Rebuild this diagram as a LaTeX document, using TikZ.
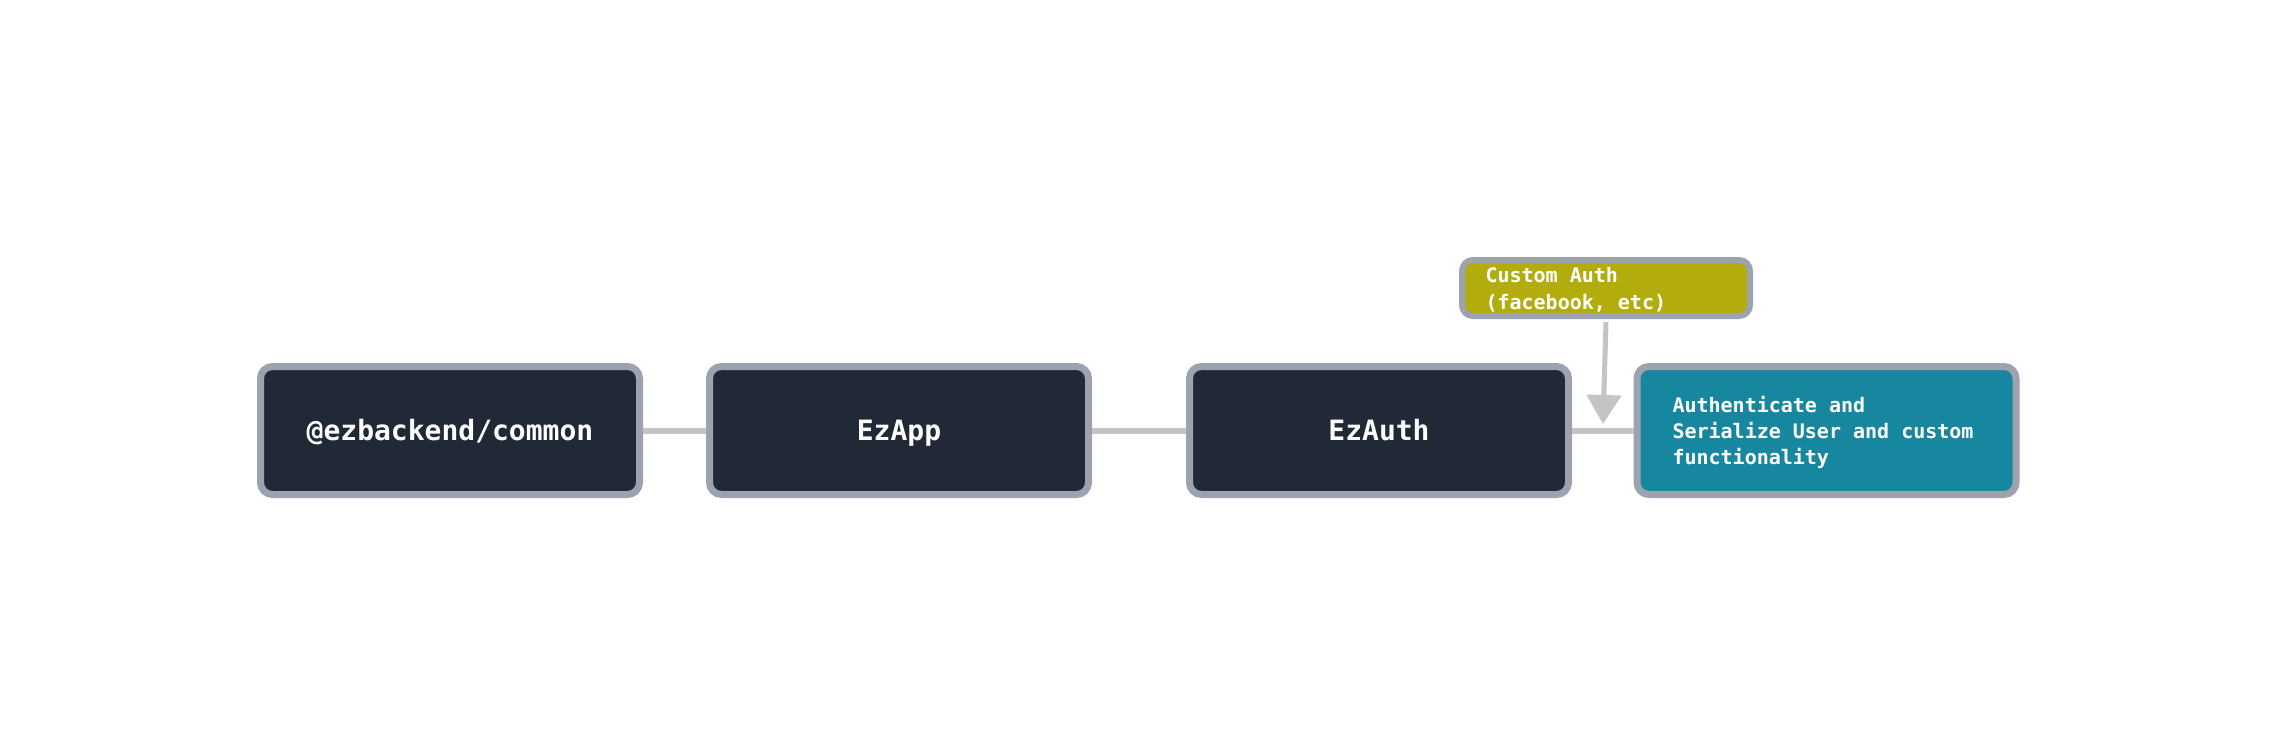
\documentclass[tikz,border=0pt]{standalone}
\usepackage{fontspec}
\newfontfamily\monob{DejaVu Sans Mono}
\newcommand{\monosz}[2]{\monob\bfseries\fontsize{#1}{#2}\selectfont}
\newcommand{\ws}{\hskip0.602em\relax}
\usetikzlibrary{arrows.meta}
\definecolor{darkfill}{HTML}{212937}
\definecolor{edgegray}{HTML}{9CA3AF}
\definecolor{tealfill}{HTML}{17879F}
\definecolor{olivefill}{HTML}{B3AC0D}
\definecolor{linkgray}{HTML}{C4C4C4}
\begin{document}
\begin{tikzpicture}[x=1pt,y=-1pt,
  box/.style={draw=edgegray, fill=darkfill, line width=7pt, rounded corners=12pt,
    minimum width=379pt, minimum height=128pt, inner sep=0pt, text=white,
    text height=20.4pt, text depth=0pt,
    font=\monosz{28}{34}},
  tealbox/.style={draw=edgegray, fill=tealfill, line width=7pt, rounded corners=12pt,
    minimum width=379pt, minimum height=128pt, inner ysep=0pt, text=white,
    text width=308pt, inner xsep=35.5pt, align=left, font=\monosz{20}{26}},
  olivebox/.style={draw=edgegray, fill=olivefill, line width=6pt, rounded corners=11pt,
    minimum width=288pt, minimum height=56pt, text width=241pt, inner xsep=23.5pt, inner ysep=0pt,
    align=left, text=white, font=\monosz{20}{27}},
  conn/.style={draw=linkgray, line width=6pt},
  arr/.style={draw=linkgray, line width=5pt, -{Triangle[width=34pt,length=29pt]}}
]
\fill[white] (0,0) rectangle (2276,755);
\useasboundingbox (0,0) rectangle (2276,755);
\node[box] (common) at (450,430.5) {@ezbackend/common};
\node[box] (ezapp) at (899,430.5) {EzApp};
\node[box] (ezauth) at (1379,430.5) {EzAuth};
\node[tealbox] (serial) at (1826.5,430.5) {\rule{0pt}{21pt}Authenticate\ws and\\Serialize\ws User\ws and\ws custom\\functionality};
\node[olivebox] (custom) at (1606,288) {\rule{0pt}{18pt}Custom\ws Auth\\(facebook,\ws etc)};
\coordinate (tip) at (1603,424);
\draw[conn] (common.east) -- (ezapp.west);
\draw[conn] (ezapp.east) -- (ezauth.west);
\draw[conn] (ezauth.east) -- (serial.west);
\draw[arr] ([yshift=-3pt]custom.south) -- (tip);
\end{tikzpicture}
\end{document}
